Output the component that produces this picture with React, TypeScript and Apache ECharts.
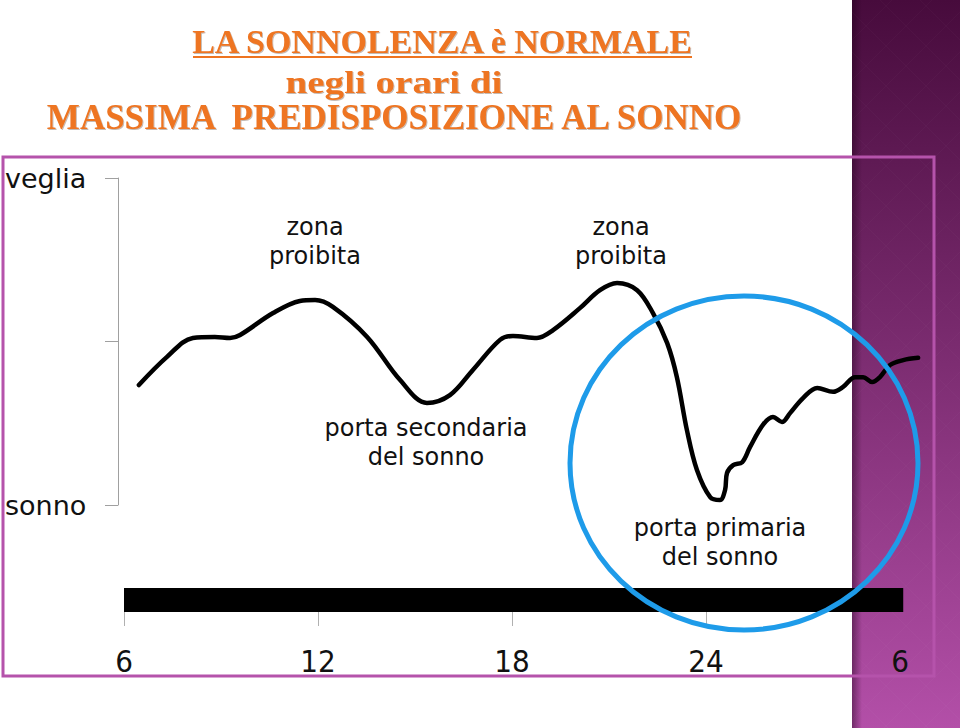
import React, { useEffect, useRef } from "react";
import * as echarts from "echarts";

// hour of day (6 → 30 = 6 next morning) and level of alertness (0 = sonno, 100 = veglia)
const hours = [6.46, 7.33, 8.13, 8.81, 9.28, 9.59, 10.61, 11.44, 11.91, 12.46, 13.52, 14.54, 15.37, 16.08, 16.79, 17.63, 18.03, 18.77, 19.27, 20.1, 20.72, 21.25, 21.87, 22.36, 22.8, 23.1, 23.41, 23.72, 24.13, 24.43, 24.59, 24.65, 24.84, 25.12, 25.36, 25.76, 26.07, 26.35, 26.6, 27.0, 27.44, 27.93, 28.24, 28.61, 28.86, 29.14, 29.38, 29.69, 30.1, 30.56];
const alertness = [36.7, 45.3, 51.1, 51.4, 51.1, 52.0, 58.7, 62.4, 62.7, 60.6, 51.4, 38.2, 31.2, 33.6, 41.3, 50.5, 51.7, 51.1, 53.5, 60.2, 65.7, 67.9, 65.7, 58.7, 49.5, 39.1, 22.9, 10.7, 2.4, 1.5, 4.6, 9.8, 12.2, 13.1, 17.7, 24.5, 26.9, 25.4, 28.1, 32.7, 35.8, 34.6, 36.1, 39.1, 39.1, 37.6, 39.1, 42.8, 44.3, 45.0];

const hourTicks = [6, 12, 18, 24, 30];
const hourTickMarks = [6, 12, 18, 24];
const levelTicks: Record<number, string> = { 0: "sonno", 100: "veglia" };
const barSpan = [6, 30.1];

const titleLines = ["LA SONNOLENZA è NORMALE", "negli orari di", "MASSIMA  PREDISPOSIZIONE AL SONNO"];
const annotations = [
  { text: "zona\nproibita", x: 315, y: 241 },
  { text: "zona\nproibita", x: 621, y: 241 },
  { text: "porta secondaria\ndel sonno", x: 426, y: 442 },
  { text: "porta primaria\ndel sonno", x: 720, y: 542 },
];

const ORANGE = "#EE7420";

export default function App() {
  const ref = useRef<HTMLDivElement>(null);
  useEffect(() => {
    document.body.style.margin = "0";
    const chart = echarts.init(ref.current!, null, { renderer: "svg" });

    const pattern: any[] = [];
    for (let y0 = -108; y0 < 728; y0 += 40) {
      pattern.push({
        type: "line",
        z: 0,
        silent: true,
        shape: { x1: 852, y1: y0, x2: 960, y2: y0 + 108 },
        style: { stroke: "rgba(255,255,255,0.025)", lineWidth: 1 },
      });
      pattern.push({
        type: "line",
        z: 0,
        silent: true,
        shape: { x1: 852, y1: y0 + 108, x2: 960, y2: y0 },
        style: { stroke: "rgba(255,255,255,0.025)", lineWidth: 1 },
      });
    }

    const shadow = { textShadowColor: "rgba(90,60,40,0.35)", textShadowOffsetX: 1, textShadowOffsetY: 1, textShadowBlur: 1 };

    const option: any = {
      animation: false,
      backgroundColor: "#ffffff",
      grid: [
        { left: 124, right: 40.6, top: 178, height: 327, outerBoundsMode: "none" },
        { left: 124, right: 40.6, top: 588, height: 24, outerBoundsMode: "none" },
      ],
      xAxis: [
        { type: "value", gridIndex: 0, min: 6, max: 30.6, show: false },
        {
          type: "value",
          gridIndex: 1,
          min: 6,
          max: 30.6,
          z: 5,
          splitLine: { show: false },
          axisLine: { show: false },
          axisTick: { show: true, customValues: hourTickMarks, length: 14, lineStyle: { color: "#b0b0b0" } },
          axisLabel: {
            customValues: hourTicks,
            formatter: (v: number) => String(v > 24 ? v - 24 : v),
            fontFamily: "'Liberation Sans Narrow', 'DejaVu Sans Condensed', sans-serif",
            fontSize: 31,
            color: "#111",
            margin: 33,
          },
        },
      ],
      yAxis: [
        {
          type: "value",
          gridIndex: 0,
          min: 0,
          max: 100,
          interval: 50,
          offset: 6,
          splitLine: { show: false },
          axisLine: { show: true, lineStyle: { color: "#a0a0a0", width: 1 } },
          axisTick: { show: true, length: 13, lineStyle: { color: "#a0a0a0" } },
          axisLabel: {
            formatter: (v: number) => levelTicks[v] ?? "",
            align: "left",
            margin: 113,
            fontFamily: "'DejaVu Sans', sans-serif",
            fontSize: 27,
            color: "#111",
            padding: [0, 0, 6, 0],
          },
        },
        { type: "value", gridIndex: 1, min: 0, max: 1, show: false },
      ],
      series: [
        {
          type: "line",
          xAxisIndex: 0,
          yAxisIndex: 0,
          data: hours.map((h, i) => [h, alertness[i]]),
          smooth: 0.35,
          symbol: "none",
          clip: false,
          z: 3,
          lineStyle: { color: "#000", width: 4.5, cap: "round", join: "round" },
        },
        {
          type: "line",
          xAxisIndex: 1,
          yAxisIndex: 1,
          data: barSpan.map((h) => [h, 1]),
          symbol: "none",
          z: 3,
          lineStyle: { width: 0 },
          areaStyle: { color: "#000", opacity: 1 },
        },
      ],
      graphic: [
        {
          type: "rect",
          z: 0,
          silent: true,
          shape: { x: 852, y: 0, width: 108, height: 728 },
          style: {
            fill: new echarts.graphic.LinearGradient(0, 0, 0, 1, [
              { offset: 0, color: "#470b3c" },
              { offset: 0.5, color: "#7d2d72" },
              { offset: 1, color: "#b34fa8" },
            ]),
          },
        },
        {
          type: "rect",
          z: 0,
          silent: true,
          shape: { x: 852, y: 0, width: 10, height: 728 },
          style: {
            fill: new echarts.graphic.LinearGradient(0, 0, 1, 0, [
              { offset: 0, color: "rgba(30,0,25,0.45)" },
              { offset: 1, color: "rgba(30,0,25,0)" },
            ]),
          },
        },
        ...pattern,
        {
          type: "rect",
          z: 1,
          silent: true,
          shape: { x: 3, y: 157, width: 931, height: 519 },
          style: { fill: "none", stroke: "#b553ab", lineWidth: 3 },
        },
        {
          type: "text",
          z: 6,
          x: 442,
          y: 41,
          style: {
            text: titleLines[0],
            font: "bold 34px 'Liberation Serif', serif",
            fill: ORANGE,
            align: "center",
            verticalAlign: "middle",
            ...shadow,
          },
        },
        {
          type: "line",
          z: 6,
          shape: { x1: 193, y1: 57, x2: 692, y2: 57 },
          style: { stroke: ORANGE, lineWidth: 2 },
        },
        {
          type: "text",
          z: 6,
          x: 394,
          y: 82,
          scaleX: 1.22,
          style: {
            text: titleLines[1],
            font: "bold 32px 'Liberation Serif', serif",
            fill: ORANGE,
            align: "center",
            verticalAlign: "middle",
            ...shadow,
          },
        },
        {
          type: "text",
          z: 6,
          x: 394,
          y: 117,
          style: {
            text: titleLines[2],
            font: "bold 35px 'Liberation Serif', serif",
            fill: ORANGE,
            align: "center",
            verticalAlign: "middle",
            ...shadow,
          },
        },
        ...annotations.map((a) => ({
          type: "text",
          z: 6,
          x: a.x,
          y: a.y,
          style: {
            text: a.text,
            font: "24px 'DejaVu Sans', sans-serif",
            lineHeight: 29,
            fill: "#111",
            align: "center",
            verticalAlign: "middle",
          },
        })),
        {
          type: "ellipse",
          z: 10,
          silent: true,
          shape: { cx: 744, cy: 463, rx: 174, ry: 167 },
          style: { fill: "none", stroke: "#1e9be9", lineWidth: 5 },
        },
      ],
    };
    chart.setOption(option);
    return () => chart.dispose();
  }, []);
  return <div ref={ref} style={{ width: 960, height: 728 }} />;
}
